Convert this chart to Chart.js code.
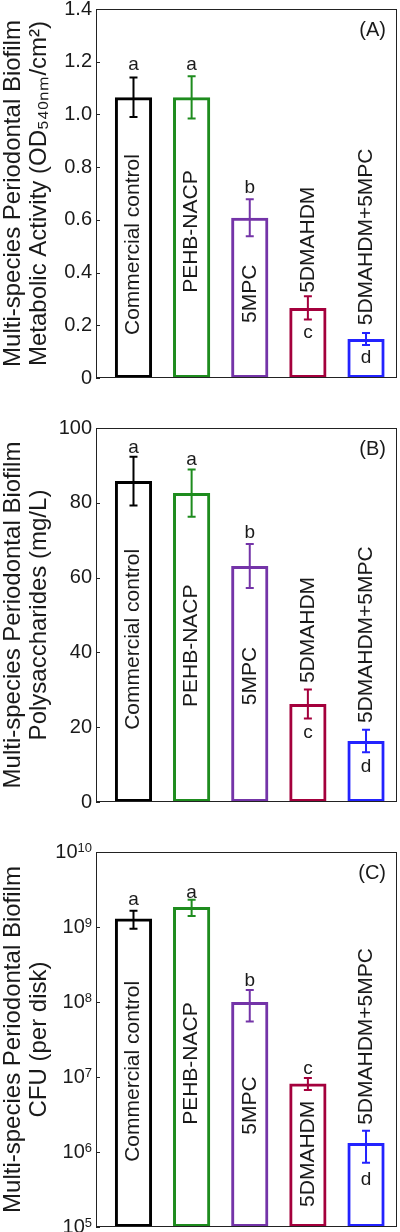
<!DOCTYPE html>
<html lang="en">
<head>
<meta charset="UTF-8">
<title>Multi-species periodontal biofilm</title>
<script src="https://cdn.jsdelivr.net/npm/chart.js"></script>
<style>
  body { margin: 0; background: #fff; }
  .panel { position: absolute; left: 0; }
</style>
</head>
<body>
<div class="panel" style="top:0"><canvas id="chartA" width="400" height="405"></canvas></div>
<div class="panel" style="top:405px"><canvas id="chartB" width="400" height="410"></canvas></div>
<div class="panel" style="top:815px"><canvas id="chartC" width="400" height="417"></canvas></div>
<script>
const groups = ['Commercial control', 'PEHB-NACP', '5MPC', '5DMAHDM', '5DMAHDM+5MPC'];
const sigLetters = ['a', 'a', 'b', 'c', 'd'];
const barColors = ['#000000', '#1e8c1e', '#7434a8', '#a4003c', '#2323ff'];

// (A) metabolic activity
const activityMean = [1.065, 1.065, 0.608, 0.266, 0.148];
const activitySd = [0.075, 0.08, 0.07, 0.044, 0.023];
const activityTicks = [0, 0.2, 0.4, 0.6, 0.8, 1.0, 1.2, 1.4];

// (B) polysaccharides
const polyMean = [85.8, 82.6, 63.1, 26.2, 16.3];
const polySd = [6.5, 6.3, 5.9, 3.9, 3.0];
const polyTicks = [0, 20, 40, 60, 80, 100];

// (C) CFU
const cfuMean = [1.3e9, 1.85e9, 1.0e8, 8.2e6, 1.32e6];
const cfuSd = [0.35e9, 0.45e9, 0.45e8, 1.5e6, 0.6e6];
const cfuTicks = [1e5, 1e6, 1e7, 1e8, 1e9, 1e10];

const FONT = '"Liberation Sans", Arial, sans-serif';
Chart.defaults.font.family = FONT;
Chart.defaults.color = '#1a1a1a';

// draws frame, inward ticks, error bars, bar labels, letters
function annotations(cfg) {
  return {
    id: 'annot',
    afterDatasetsDraw(chart) {
      const { ctx, chartArea: a, scales: { x, y } } = chart;
      ctx.save();
      ctx.strokeStyle = '#222';
      ctx.lineWidth = 1;
      ctx.strokeRect(a.left + 0.5, a.top + 0.5, a.right - a.left - 1, a.bottom - a.top - 1);
      cfg.ticks.forEach(v => {
        const py = Math.round(y.getPixelForValue(v)) + 0.5;
        ctx.beginPath();
        ctx.moveTo(a.left, py);
        ctx.lineTo(a.left + 4, py);
        ctx.stroke();
      });

      // error bars
      ctx.lineWidth = 2;
      cfg.mean.forEach((m, i) => {
        const px = x.getPixelForValue(i);
        const top = y.getPixelForValue(m + cfg.sd[i]);
        const bot = y.getPixelForValue(m - cfg.sd[i]);
        ctx.strokeStyle = barColors[i];
        ctx.beginPath();
        ctx.moveTo(px, top); ctx.lineTo(px, bot);
        ctx.moveTo(px - 4, top); ctx.lineTo(px + 4, top);
        ctx.moveTo(px - 4, bot); ctx.lineTo(px + 4, bot);
        ctx.stroke();
      });

      ctx.fillStyle = '#1a1a1a';
      // rotated group names
      ctx.font = '21px ' + FONT;
      groups.forEach((g, i) => {
        ctx.save();
        ctx.translate(x.getPixelForValue(i), y.getPixelForValue(cfg.labelBase[i]));
        ctx.rotate(-Math.PI / 2);
        ctx.textAlign = 'left';
        ctx.textBaseline = 'middle';
        ctx.fillText(g, 0, 0);
        ctx.restore();
      });

      // significance letters
      ctx.font = '19px ' + FONT;
      ctx.textAlign = 'center';
      ctx.textBaseline = 'middle';
      sigLetters.forEach((s, i) => {
        ctx.fillText(s, x.getPixelForValue(i), y.getPixelForValue(cfg.letterPos[i]));
      });

      // panel tag
      ctx.font = '20px ' + FONT;
      ctx.textAlign = 'right';
      ctx.fillText(cfg.tag, a.right - 11, a.top + 21);

      // power-of-ten labels for the log axis
      if (cfg.log) {
        cfg.ticks.forEach(v => {
          const py = y.getPixelForValue(v);
          const exp = String(Math.round(Math.log10(v)));
          ctx.font = '13px ' + FONT;
          const ew = ctx.measureText(exp).width;
          ctx.textAlign = 'left';
          ctx.textBaseline = 'alphabetic';
          ctx.fillText(exp, a.left - 4 - ew, py);
          ctx.font = '20px ' + FONT;
          ctx.textAlign = 'right';
          ctx.textBaseline = 'middle';
          ctx.fillText('10', a.left - 4 - ew, py);
        });
      }
      ctx.restore();
    }
  };
}

function makePanel(id, cfg) {
  new Chart(document.getElementById(id), {
    type: 'bar',
    data: {
      datasets: [{
        data: cfg.mean.map((v, i) => ({ x: i, y: v })),
        backgroundColor: 'rgba(255,255,255,0)',
        borderColor: barColors,
        borderWidth: 3,
        borderSkipped: false,
        barPercentage: 0.64,
        categoryPercentage: 1
      }]
    },
    options: {
      responsive: false,
      animation: false,
      layout: { padding: { top: cfg.padTop, right: 3, bottom: cfg.padBottom, left: 0 } },
      plugins: { legend: { display: false }, tooltip: { enabled: false } },
      scales: {
        x: { type: 'linear', min: -0.645, max: 4.533, offset: false, display: false },
        y: {
          type: cfg.log ? 'logarithmic' : 'linear',
          min: cfg.ticks[0],
          max: cfg.ticks[cfg.ticks.length - 1],
          afterBuildTicks: s => { s.ticks = cfg.ticks.map(v => ({ value: v })); },
          afterFit: s => { s.width = 96; s.paddingTop = 0; s.paddingBottom = 0; },
          grid: { display: false, drawTicks: false },
          border: { display: false },
          ticks: {
            display: !cfg.log,
            padding: 4,
            font: { size: 20 },
            callback: cfg.fmt
          },
          title: {
            display: true,
            text: cfg.title,
            padding: 0,
            font: { size: 24, lineHeight: 1.1 }
          }
        }
      }
    },
    plugins: [annotations(cfg)]
  });
}

makePanel('chartA', {
  mean: activityMean, sd: activitySd, ticks: activityTicks, tag: '(A)',
  title: ['Multi-species Periodontal Biofilm', 'Metabolic Activity (OD\u2085\u2084\u2080\u2099\u2098/cm\u00b2)'],
  fmt: v => v === 0 ? '0' : v.toFixed(1),
  labelBase: [0.163, 0.323, 0.209, 0.323, 0.2],
  letterPos: [1.19, 1.19, 0.72, 0.17, 0.076],
  padTop: 9, padBottom: 27
});

makePanel('chartB', {
  mean: polyMean, sd: polySd, ticks: polyTicks, tag: '(B)',
  title: ['Multi-species Periodontal Biofilm', 'Polysaccharides (mg/L)'],
  fmt: v => String(v),
  labelBase: [19.3, 25.4, 25.9, 31.8, 21.1],
  letterPos: [94.7, 91.4, 71.9, 18.4, 9.4],
  padTop: 23, padBottom: 13
});

makePanel('chartC', {
  mean: cfuMean, sd: cfuSd, ticks: cfuTicks, tag: '(C)', log: true,
  title: ['Multi-species Periodontal Biofilm', 'CFU (per disk)'],
  fmt: v => '',
  labelBase: [7.4e5, 2.3e6, 1.7e6, 1.85e5, 2.3e6],
  letterPos: [2.3e9, 2.9e9, 1.9e8, 1.3e7, 4.2e5],
  padTop: 37, padBottom: 5
});
</script>
</body>
</html>
